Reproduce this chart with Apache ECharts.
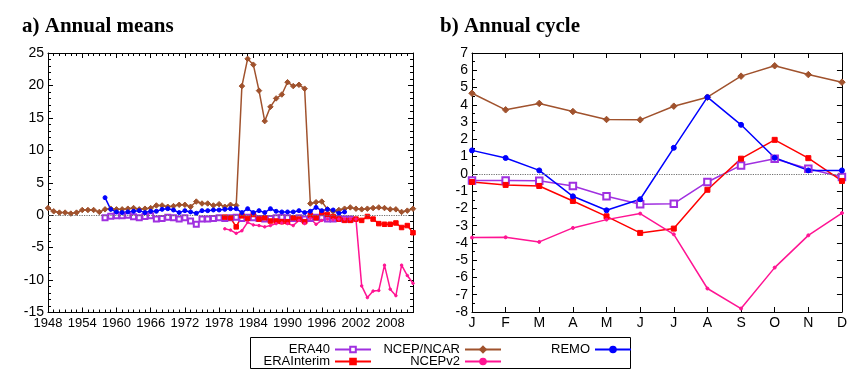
<!DOCTYPE html>
<html>
<head>
<meta charset="utf-8">
<title>Annual means / Annual cycle</title>
<script src="https://cdn.jsdelivr.net/npm/echarts@6.0.0/dist/echarts.min.js"></script>
<style>
    html, body { margin: 0; padding: 0; background: #fff; }
    #chart { width: 850px; height: 384px; }
</style>
</head>
<body>
<div id="chart"></div>
<script>
// a) annual means, one value per year starting at the given year
var firstYear = 1948;
var lastYear = 2012;

var era40Start = 1958;
var era40Annual = [-0.4, -0.15, -0.1, -0.1, 0.0, -0.25, -0.4, -0.2, -0.1, -0.6,
    -0.5, -0.3, -0.4, -0.6, -0.4, -0.9, -1.4, -0.6, -0.6, -0.5,
    -0.4, -0.5, -0.4, -0.3, -0.5, -0.3, -0.4, -0.5, -0.6, -0.5,
    -0.4, -0.3, -0.4, -0.5, -0.4, -0.6, -0.5, -0.3, -0.4, -0.6,
    -0.6, -0.5, -0.6, -0.6];

var eraInterimStart = 1979;
var eraInterimAnnual = [-0.3, -0.4, -1.8, -0.1, -0.5, 0.1, -0.6, -0.4, -0.9, -0.9,
    -1.0, -1.0, -0.4, -0.6, -1.0, 0.0, -0.4, 0.4, 0.1, -0.2,
    -0.6, -0.8, -0.8, -0.6, -0.8, -0.2, -0.6, -1.3, -1.4, -1.4,
    -1.2, -1.9, -1.6, -2.7];

var ncepStart = 1948;
var ncepAnnual = [1.1, 0.6, 0.4, 0.4, 0.25, 0.4, 0.8, 0.8, 0.8, 0.5,
    0.9, 1.0, 0.9, 0.9, 1.0, 1.1, 0.9, 1.0, 1.1, 1.5,
    1.5, 1.3, 1.4, 1.6, 1.6, 1.3, 2.1, 1.8, 1.8, 1.5,
    1.7, 1.3, 1.6, 1.5, 19.9, 24.1, 23.2, 19.2, 14.5, 16.7,
    18.0, 18.6, 20.5, 19.9, 20.1, 19.5, 1.8, 2.0, 2.1, 0.9,
    0.6, 0.8, 1.0, 1.2, 1.0, 0.9, 1.0, 1.1, 1.2, 1.1,
    0.9, 0.9, 0.5, 0.7, 1.0];

var ncepv2Start = 1979;
var ncepv2Annual = [-2.1, -2.3, -2.8, -2.4, -1.1, -1.5, -1.6, -1.8, -1.6, -1.3,
    -1.2, -1.3, -1.6, -0.8, -1.3, -0.5, -1.4, -0.8, -0.6, -0.7,
    -0.6, -0.6, -0.6, -0.6, -10.9, -12.7, -11.7, -11.6, -7.7, -11.4,
    -12.4, -7.7, -9.3, -10.5];

var remoStart = 1958;
var remoAnnual = [2.7, 0.9, 0.5, 0.4, 0.5, 0.6, 0.7, 0.4, 0.6, 0.6,
    0.9, 1.0, 0.8, 0.4, 0.7, 0.5, 0.3, 0.7, 0.7, 0.8,
    0.8, 0.9, 1.0, 1.0, 0.4, 1.0, 0.4, 0.7, 0.4, 1.0,
    0.6, 0.5, 0.5, 0.5, 0.7, 0.4, 0.6, 1.2, 0.7, 0.9,
    0.8, 0.3, 0.5];

// b) annual cycle, J..D
var months = ['J', 'F', 'M', 'A', 'M', 'J', 'J', 'A', 'S', 'O', 'N', 'D'];
var era40Cycle = [-0.38, -0.38, -0.4, -0.7, -1.3, -1.76, -1.73, -0.47, 0.49, 0.88, 0.3, -0.18];
var eraInterimCycle = [-0.47, -0.64, -0.7, -1.57, -2.46, -3.42, -3.17, -0.92, 0.88, 1.97, 0.91, -0.41];
var ncepCycle = [4.67, 3.71, 4.08, 3.61, 3.15, 3.13, 3.92, 4.44, 5.66, 6.26, 5.75, 5.31];
var ncepv2Cycle = [-3.69, -3.67, -3.94, -3.13, -2.65, -2.3, -3.5, -6.64, -7.8, -5.43, -3.56, -2.27];
var remoCycle = [1.36, 0.92, 0.2, -1.3, -2.11, -1.47, 1.51, 4.44, 2.84, 0.93, 0.2, 0.2];

var yearLabelStep = 6;

// symbol sizes: [annual means, annual cycle]
var looks = {
    'ERA40':      { color: '#a030e0', symbol: 'emptyRect', size: [5, 6.5] },
    'ERAInterim': { color: '#ff0000', symbol: 'rect', size: [4.5, 5] },
    'NCEP/NCAR':  { color: '#a0522d', symbol: 'diamond', size: [5.5, 6.5] },
    'NCEPv2':     { color: '#ff1493', symbol: 'circle', size: [2.5, 3] },
    'REMO':       { color: '#0000ff', symbol: 'circle', size: [4, 5] }
};

var font = 'Liberation Sans, Arial, sans-serif';

// years are put on the axis as offsets from firstYear, so ticks start at 1948
function yearData(start, values) {
    return values.map(function (v, i) {
        return [start + i - firstYear, v];
    });
}

function monthData(values) {
    return values.map(function (v, i) {
        return [i, v];
    });
}

function line(name, data, axisIdx) {
    var look = looks[name];
    return {
        name: name,
        type: 'line',
        xAxisIndex: axisIdx,
        yAxisIndex: axisIdx,
        data: data,
        symbol: look.symbol,
        symbolSize: look.size[axisIdx === 0 ? 0 : 1],
        showAllSymbol: true,
        lineStyle: { color: look.color, width: 1.5 },
        itemStyle: { color: look.color, borderColor: look.color, borderWidth: 1 },
        emphasis: { disabled: true }
    };
}

function zeroLine() {
    return {
        silent: true,
        symbol: 'none',
        label: { show: false },
        lineStyle: { color: '#707070', type: 'dotted', width: 1.2 },
        data: [{ yAxis: 0 }]
    };
}

function xAxisDef(grid, pos, min, max, interval, minorSplit, labelFn) {
    return {
        type: 'value',
        gridIndex: grid,
        position: pos,
        min: min,
        max: max,
        interval: interval,
        axisLine: { show: true, onZero: false, lineStyle: { color: '#000', width: 1 } },
        axisTick: { show: true, inside: true, length: 5, lineStyle: { color: '#000' } },
        minorTick: { show: minorSplit > 0, splitNumber: minorSplit || 1, length: 3, lineStyle: { color: '#000' } },
        splitLine: { show: false },
        axisLabel: {
            show: !!labelFn,
            formatter: labelFn,
            color: '#000',
            fontFamily: font,
            fontSize: grid === 0 ? 13 : 14,
            margin: 4,
            showMaxLabel: grid !== 0
        }
    };
}

function yAxisDef(grid, pos, min, max, interval, minorSplit, showLabel) {
    return {
        type: 'value',
        gridIndex: grid,
        position: pos,
        min: min,
        max: max,
        interval: interval,
        axisLine: { show: true, onZero: false, lineStyle: { color: '#000', width: 1 } },
        axisTick: { show: true, inside: true, length: 5, lineStyle: { color: '#000' } },
        minorTick: { show: minorSplit > 0, splitNumber: minorSplit || 1, length: 3, lineStyle: { color: '#000' } },
        splitLine: { show: false },
        axisLabel: { show: showLabel, color: '#000', fontFamily: font, fontSize: 14, margin: 4 }
    };
}

function yearLabel(v) {
    return v % yearLabelStep === 0 ? String(firstYear + v) : '';
}

function monthLabel(v) {
    return months[v] || '';
}

function legendAt(name, right, top) {
    return {
        data: [name],
        right: right,
        top: top,
        align: 'right',
        padding: 0,
        itemWidth: 36,
        itemHeight: 7,
        selectedMode: false,
        textStyle: { color: '#000', fontFamily: font, fontSize: 13 }
    };
}

var chart = echarts.init(document.getElementById('chart'), null, { renderer: 'canvas' });

var span = lastYear - firstYear;

var annual = [
    line('ERA40', yearData(era40Start, era40Annual), 0),
    line('ERAInterim', yearData(eraInterimStart, eraInterimAnnual), 0),
    line('NCEP/NCAR', yearData(ncepStart, ncepAnnual), 0),
    line('NCEPv2', yearData(ncepv2Start, ncepv2Annual), 0),
    line('REMO', yearData(remoStart, remoAnnual), 0)
];
annual[0].markLine = zeroLine();

var cycle = [
    line('ERA40', monthData(era40Cycle), 2),
    line('ERAInterim', monthData(eraInterimCycle), 2),
    line('NCEP/NCAR', monthData(ncepCycle), 2),
    line('NCEPv2', monthData(ncepv2Cycle), 2),
    line('REMO', monthData(remoCycle), 2)
];
cycle[0].markLine = zeroLine();

var titleStyle = { fontFamily: 'Liberation Serif, serif', fontWeight: 'bold', fontSize: 21, color: '#000' };

chart.setOption({
    animation: false,
    backgroundColor: '#fff',
    title: [
        { text: 'a) Annual means', left: 22, top: 16, padding: 0, textStyle: titleStyle },
        { text: 'b) Annual cycle', left: 440, top: 16, padding: 0, textStyle: titleStyle }
    ],
    grid: [
        { left: 48, right: 437, top: 53, bottom: 71.5 },
        { left: 472, right: 7, top: 53, bottom: 72 }
    ],
    xAxis: [
        xAxisDef(0, 'bottom', 0, span, yearLabelStep, yearLabelStep, yearLabel),
        xAxisDef(0, 'top', 0, span, yearLabelStep, yearLabelStep, null),
        xAxisDef(1, 'bottom', 0, 11, 1, 0, monthLabel),
        xAxisDef(1, 'top', 0, 11, 1, 0, null)
    ],
    yAxis: [
        yAxisDef(0, 'left', -15, 25, 5, 5, true),
        yAxisDef(0, 'right', -15, 25, 5, 5, false),
        yAxisDef(1, 'left', -8, 7, 1, 2, true),
        yAxisDef(1, 'right', -8, 7, 1, 0, false)
    ],
    legend: [
        legendAt('ERA40', 478, 343),
        legendAt('ERAInterim', 478, 355),
        legendAt('NCEP/NCAR', 348, 343),
        legendAt('NCEPv2', 348, 355),
        legendAt('REMO', 218, 343)
    ],
    graphic: [{
        type: 'rect',
        silent: true,
        shape: { x: 250.5, y: 337.5, width: 380, height: 31 },
        style: { fill: 'none', stroke: '#000', lineWidth: 1 }
    }],
    series: annual.concat(cycle)
});
</script>
</body>
</html>
